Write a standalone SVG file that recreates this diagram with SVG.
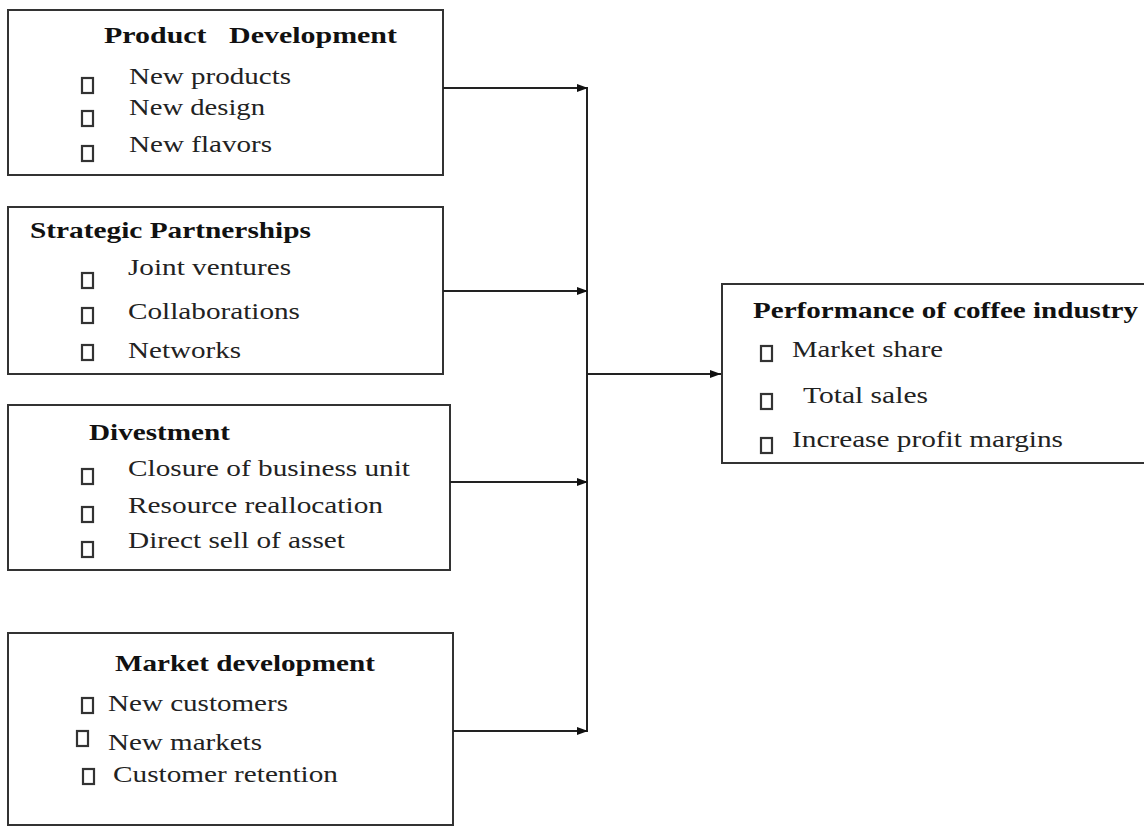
<svg xmlns="http://www.w3.org/2000/svg" width="1144" height="827" viewBox="0 0 1144 827">
<defs>
<style>
.box{fill:#fff;stroke:#333;stroke-width:2}
.bul{fill:none;stroke:#333;stroke-width:2.2}
.t{font-family:"Liberation Serif","Times New Roman",serif;font-size:23px;fill:#222}
.h{font-family:"Liberation Serif","Times New Roman",serif;font-size:23px;font-weight:bold;fill:#111}
.ln{fill:none;stroke:#222;stroke-width:2}
</style>
<marker id="ah" viewBox="0 0 11 8" refX="11" refY="4" markerWidth="11" markerHeight="8" markerUnits="userSpaceOnUse" orient="auto">
<path d="M0,0 L11,4 L0,8 z" fill="#111"/>
</marker>
</defs>
<rect width="1144" height="827" fill="#fff"/>

<g id="product-development">
<rect class="box" x="8" y="10" width="435" height="165"/>
<text class="h" x="104" y="43" textLength="293" lengthAdjust="spacingAndGlyphs" xml:space="preserve">Product   Development</text>
<rect class="bul" x="82" y="78" width="11" height="15"/>
<text class="t" x="129" y="84" textLength="162" lengthAdjust="spacingAndGlyphs">New products</text>
<rect class="bul" x="82" y="111" width="11" height="15"/>
<text class="t" x="129" y="115" textLength="136" lengthAdjust="spacingAndGlyphs">New design</text>
<rect class="bul" x="82" y="146" width="11" height="15"/>
<text class="t" x="129" y="152" textLength="143" lengthAdjust="spacingAndGlyphs">New flavors</text>
</g>

<g id="strategic-partnerships">
<rect class="box" x="8" y="207" width="435" height="167"/>
<text class="h" x="30" y="238" textLength="281" lengthAdjust="spacingAndGlyphs">Strategic Partnerships</text>
<rect class="bul" x="82" y="273" width="11" height="15"/>
<text class="t" x="128" y="275" textLength="163" lengthAdjust="spacingAndGlyphs">Joint ventures</text>
<rect class="bul" x="82" y="308" width="11" height="15"/>
<text class="t" x="128" y="319" textLength="172" lengthAdjust="spacingAndGlyphs">Collaborations</text>
<rect class="bul" x="82" y="345" width="11" height="15"/>
<text class="t" x="128" y="358" textLength="113" lengthAdjust="spacingAndGlyphs">Networks</text>
</g>

<g id="divestment">
<rect class="box" x="8" y="405" width="442" height="165"/>
<text class="h" x="89" y="440" textLength="141" lengthAdjust="spacingAndGlyphs">Divestment</text>
<rect class="bul" x="82" y="469" width="11" height="15"/>
<text class="t" x="128" y="476" textLength="282" lengthAdjust="spacingAndGlyphs">Closure of business unit</text>
<rect class="bul" x="82" y="507" width="11" height="15"/>
<text class="t" x="128" y="513" textLength="255" lengthAdjust="spacingAndGlyphs">Resource reallocation</text>
<rect class="bul" x="82" y="542" width="11" height="15"/>
<text class="t" x="128" y="548" textLength="217" lengthAdjust="spacingAndGlyphs">Direct sell of asset</text>
</g>

<g id="market-development">
<rect class="box" x="8" y="633" width="445" height="192"/>
<text class="h" x="115" y="671" textLength="260" lengthAdjust="spacingAndGlyphs">Market development</text>
<rect class="bul" x="82" y="698" width="11" height="15"/>
<text class="t" x="108" y="711" textLength="180" lengthAdjust="spacingAndGlyphs">New customers</text>
<rect class="bul" x="77" y="731" width="11" height="15"/>
<text class="t" x="108" y="750" textLength="154" lengthAdjust="spacingAndGlyphs">New markets</text>
<rect class="bul" x="83" y="769" width="11" height="15"/>
<text class="t" x="113" y="782" textLength="225" lengthAdjust="spacingAndGlyphs">Customer retention</text>
</g>

<g id="performance">
<rect class="box" x="722" y="284" width="440" height="179"/>
<text class="h" x="753" y="318" textLength="385" lengthAdjust="spacingAndGlyphs">Performance of coffee industry</text>
<rect class="bul" x="761" y="346" width="11" height="15"/>
<text class="t" x="792" y="357" textLength="151" lengthAdjust="spacingAndGlyphs">Market share</text>
<rect class="bul" x="761" y="394" width="11" height="15"/>
<text class="t" x="803" y="403" textLength="125" lengthAdjust="spacingAndGlyphs">Total sales</text>
<rect class="bul" x="761" y="438" width="11" height="15"/>
<text class="t" x="792" y="447" textLength="271" lengthAdjust="spacingAndGlyphs">Increase profit margins</text>
</g>

<g id="connectors">
<line class="ln" x1="587" y1="88" x2="587" y2="732"/>
<line class="ln" x1="443" y1="88" x2="588" y2="88" marker-end="url(#ah)"/>
<line class="ln" x1="443" y1="291" x2="588" y2="291" marker-end="url(#ah)"/>
<line class="ln" x1="450" y1="482" x2="588" y2="482" marker-end="url(#ah)"/>
<line class="ln" x1="453" y1="731" x2="588" y2="731" marker-end="url(#ah)"/>
<line class="ln" x1="587" y1="374" x2="721" y2="374" marker-end="url(#ah)"/>
</g>
</svg>
